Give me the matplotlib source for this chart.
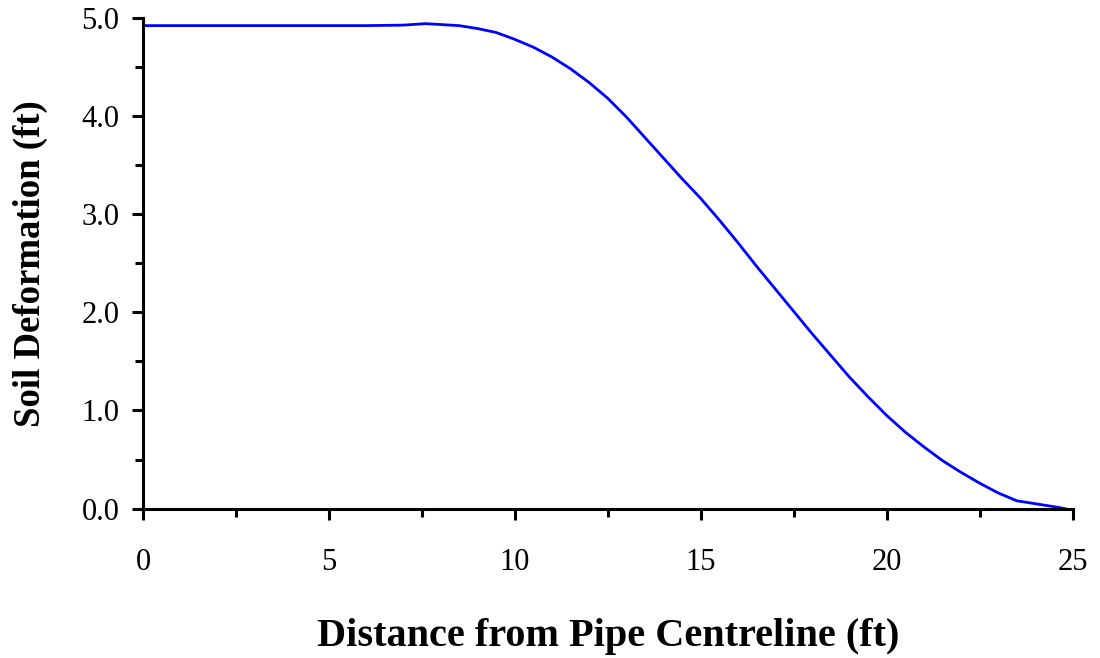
import matplotlib
matplotlib.use("Agg")
import matplotlib.pyplot as plt
from matplotlib.ticker import MultipleLocator, FormatStrFormatter

# distance from pipe centreline (ft) and soil deformation (ft)
distance = [0, 2, 4, 6, 7, 7.6, 8.5, 9.0, 9.5, 10.0, 10.5, 11.0, 11.5, 12.0,
            12.5, 13.0, 13.5, 14.0, 14.5, 15.0, 15.5, 16.0, 16.5, 17.0, 17.5,
            18.0, 18.5, 19.0, 19.5, 20.0, 20.5, 21.0, 21.5, 22.0, 22.5, 23.0,
            23.5, 24.0, 24.5, 24.8]
deformation = [4.92, 4.92, 4.92, 4.92, 4.925, 4.94, 4.92, 4.89, 4.85, 4.78,
               4.70, 4.60, 4.48, 4.34, 4.18, 3.99, 3.78, 3.57, 3.36, 3.16,
               2.94, 2.71, 2.47, 2.24, 2.01, 1.78, 1.56, 1.34, 1.14, 0.95,
               0.78, 0.63, 0.49, 0.37, 0.26, 0.16, 0.08, 0.05, 0.02, 0.0]

plt.rcParams['font.family'] = ['Liberation Serif', 'DejaVu Serif']

fig = plt.figure(figsize=(11, 6.58), dpi=100)
ax = fig.add_axes([0.130, 0.227, 0.845, 0.746])

ax.plot(distance, deformation, color='#0000ff', linewidth=2.0)

ax.set_xlim(0, 25)
ax.set_ylim(0, 5)
ax.xaxis.set_major_locator(MultipleLocator(5))
ax.xaxis.set_minor_locator(MultipleLocator(2.5))
ax.yaxis.set_major_locator(MultipleLocator(1))
ax.yaxis.set_minor_locator(MultipleLocator(0.5))
ax.yaxis.set_major_formatter(FormatStrFormatter('%.1f'))

for side in ['top', 'right']:
    ax.spines[side].set_visible(False)
for side in ['left', 'bottom']:
    ax.spines[side].set_linewidth(2.2)

ax.tick_params(which='major', direction='out', length=8, width=2.2,
               labelsize=22)
ax.tick_params(which='minor', direction='out', length=6, width=2.2)
ax.tick_params(axis='x', which='major', pad=20)
ax.tick_params(axis='y', which='major', pad=9)

ax.set_xlabel("Distance from Pipe Centreline (ft)", fontsize=29,
              fontweight='bold', labelpad=30)
ax.set_ylabel("Soil Deformation (ft)", fontsize=26.5, fontweight='bold',
              labelpad=24)

fig.savefig("out.png", dpi=100)
